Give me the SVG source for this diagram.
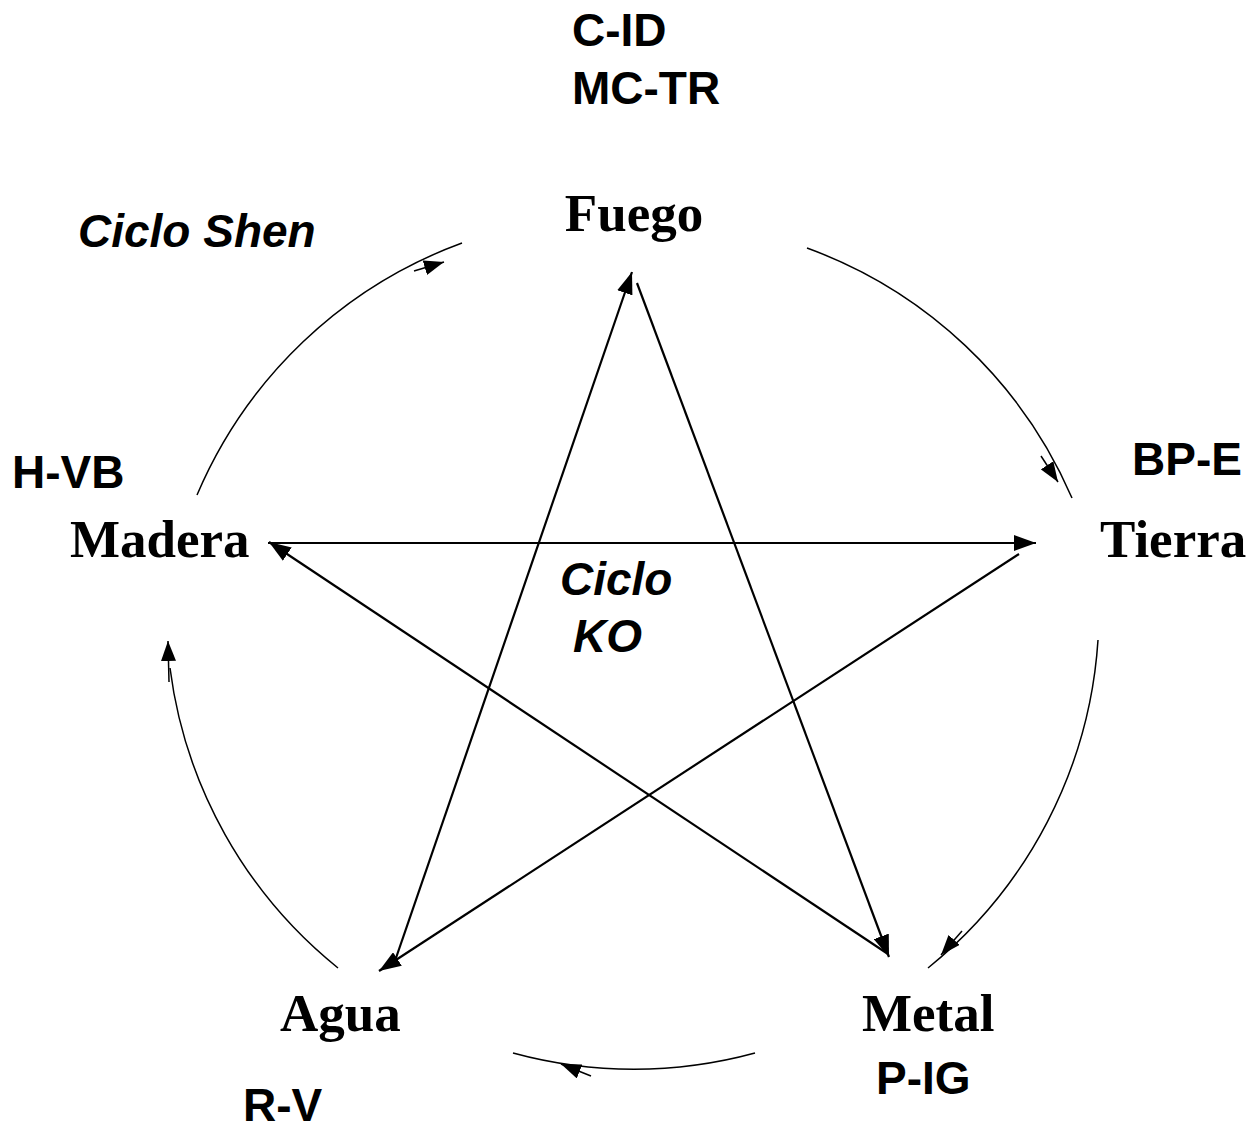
<svg xmlns="http://www.w3.org/2000/svg" width="1255" height="1130" viewBox="0 0 1255 1130">
<style>
.sans{font-family:"Liberation Sans",Arial,sans-serif;font-weight:bold;font-size:46px;fill:#000}
.it{font-style:italic}
.serif{font-family:"Liberation Serif","Times New Roman",serif;font-weight:bold;font-size:53px;fill:#000}
.ln{stroke:#000;stroke-width:2.2;fill:none}
.arc{stroke:#000;stroke-width:1.5;fill:none}
</style>
<defs>
<marker id="ah" viewBox="0 0 22 16" refX="22" refY="8" markerWidth="22" markerHeight="16" markerUnits="userSpaceOnUse" orient="auto">
<path d="M0,0 L22,8 L0,16 z" fill="#000"/>
</marker>
<marker id="ahs" viewBox="0 0 20 15" refX="20" refY="7.5" markerWidth="20" markerHeight="15" markerUnits="userSpaceOnUse" orient="auto">
<path d="M0,0 L20,7.5 L0,15 z" fill="#000"/>
</marker>
</defs>
<g id="labels">
<text class="sans" x="572" y="46">C-ID</text>
<text class="sans" x="572" y="104">MC-TR</text>
<text class="sans it" x="78" y="247">Ciclo Shen</text>
<text class="sans" x="12" y="488">H-VB</text>
<text class="sans" x="1132" y="475">BP-E</text>
<text class="sans it" x="560" y="595">Ciclo</text>
<text class="sans it" x="573" y="652">KO</text>
<text class="sans" x="876" y="1094">P-IG</text>
<text class="sans" x="243" y="1121">R-V</text>
</g>
<g id="fuego"><text class="serif" x="634" y="231" text-anchor="middle">Fuego</text></g>
<g id="madera"><text class="serif" x="70" y="557">Madera</text></g>
<g id="tierra"><text class="serif" x="1100" y="557">Tierra</text></g>
<g id="agua"><text class="serif" x="280" y="1031">Agua</text></g>
<g id="metal"><text class="serif" x="862" y="1031">Metal</text></g>
<g id="connectors">
<path class="arc" d="M807,248 A460,460 0 0 1 1072,498"/>
<path class="arc" d="M1098,640 A460,460 0 0 1 928,968"/>
<path class="arc" d="M755,1053 A460,460 0 0 1 513,1053"/>
<path class="arc" d="M338,968 A460,460 0 0 1 170,668"/>
<path class="arc" d="M197,495 A460,460 0 0 1 462,243"/>
<line class="arc" x1="414" y1="271" x2="444" y2="262" marker-end="url(#ahs)"/>
<line class="arc" x1="1041" y1="456" x2="1058" y2="482" marker-end="url(#ahs)"/>
<line class="arc" x1="962" y1="931" x2="941" y2="955" marker-end="url(#ahs)"/>
<line class="arc" x1="591" y1="1076" x2="561" y2="1064" marker-end="url(#ahs)"/>
<line class="arc" x1="169" y1="682" x2="168" y2="641" marker-end="url(#ahs)"/>
<line class="ln" x1="396" y1="958" x2="632" y2="272" marker-end="url(#ah)"/>
<line class="ln" x1="637" y1="283" x2="889" y2="957" marker-end="url(#ah)"/>
<line class="ln" x1="268" y1="543" x2="1036" y2="543" marker-end="url(#ah)"/>
<line class="ln" x1="888" y1="954" x2="269" y2="542" marker-end="url(#ah)"/>
<line class="ln" x1="1019" y1="554" x2="379" y2="971" marker-end="url(#ah)"/>
</g>
</svg>
